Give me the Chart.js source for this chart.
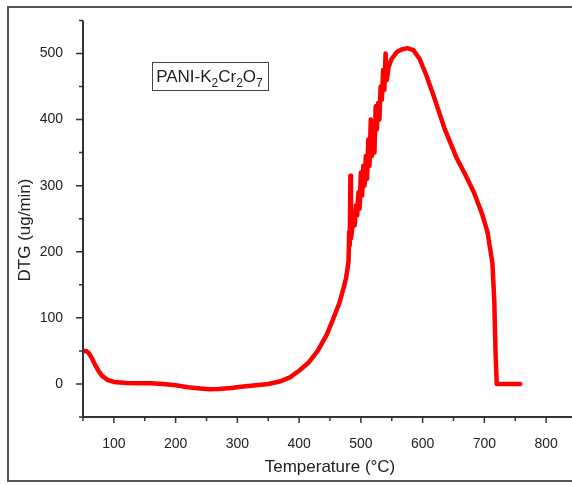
<!DOCTYPE html>
<html>
<head>
<meta charset="utf-8">
<script src="https://cdn.jsdelivr.net/npm/chart.js@4.4.1/dist/chart.umd.min.js"></script>
<style>
  html, body { margin: 0; padding: 0; background: #fff; overflow: hidden; }
  #wrap { position: relative; width: 572px; height: 485px; overflow: hidden; }
  #frame { position: absolute; left: 7px; top: 6px; width: 620px; height: 476px; border: 2px solid #555; border-right: none; box-sizing: border-box; }
  #c { position: absolute; left: 0; top: 0; }
</style>
</head>
<body>
<div id="wrap">
  <div id="frame"></div>
  <canvas id="c" width="588" height="485"></canvas>
</div>
<script>
// temperature (°C) and DTG (ug/min)
const temperature = [
  50, 55, 60, 65, 70, 75, 80, 90, 100, 120, 140, 160, 180, 200, 220, 240, 255, 270, 290, 310,
  330, 350, 370, 385, 400, 415, 430, 445, 455, 465, 472, 476, 480, 481, 482, 483, 484, 486, 488, 490,
  492, 494, 496, 498, 500, 502, 504, 506, 508, 510, 512, 514, 516, 518, 520, 522, 524, 526, 528, 530,
  532, 534, 536, 538, 540, 542, 545, 550, 558, 566, 575, 585, 595, 606, 620, 636, 655, 670, 683, 696,
  705, 713, 716, 718, 720, 740, 758
];
const dtg = [
  50, 50, 46, 38, 28, 20, 13, 6, 3, 1.5, 1, 1, 0, -2, -5, -7, -8, -7.5, -6, -4,
  -2, 0, 4, 10, 20, 32, 50, 75, 98, 122, 145, 160, 185, 230, 210, 315, 220, 235, 250, 240,
  270, 255, 290, 265, 320, 285, 330, 300, 345, 310, 370, 330, 400, 345, 375, 350, 420, 385, 425, 400,
  450, 430, 475, 445, 500, 460, 480, 492, 502, 506, 508, 505, 492, 467, 430, 385, 342, 315, 290, 258,
  230, 183, 127, 50, 0, 0, 0
];

const xTitle = "Temperature (°C)";
const yTitle = "DTG (ug/min)";
const sampleLabel = [["PANI-K", false], ["2", true], ["Cr", false], ["2", true], ["O", false], ["7", true]];

const points = temperature.map((t, i) => ({ x: t, y: dtg[i] }));

// axes lines, major/minor ticks, titles and the sample label box
const decor = {
  id: "decor",
  afterDraw(chart) {
    const ctx = chart.ctx;
    const xs = chart.scales.x, ys = chart.scales.y;
    const a = chart.chartArea;
    ctx.save();
    ctx.strokeStyle = "#333";
    ctx.lineWidth = 2;
    ctx.beginPath();
    ctx.moveTo(a.left, a.top);
    ctx.lineTo(a.left, a.bottom);
    ctx.lineTo(a.right + 10, a.bottom);
    ctx.stroke();

    ctx.lineWidth = 1.5;
    ctx.beginPath();
    xs.ticks.forEach(t => {
      const px = xs.getPixelForValue(t.value);
      const len = t.value % 100 === 0 ? 6 : 4;
      ctx.moveTo(px, a.bottom);
      ctx.lineTo(px, a.bottom + len);
    });
    ys.ticks.forEach(t => {
      const py = ys.getPixelForValue(t.value);
      const len = t.value % 100 === 0 ? 7 : 4;
      ctx.moveTo(a.left, py);
      ctx.lineTo(a.left - len, py);
    });
    ctx.stroke();

    ctx.fillStyle = "#222";
    ctx.font = "17px 'Liberation Sans', Arial, sans-serif";
    ctx.textAlign = "center";
    ctx.textBaseline = "middle";
    ctx.fillText(xTitle, 330, 467);
    ctx.save();
    ctx.translate(25, 230);
    ctx.rotate(-Math.PI / 2);
    ctx.fillText(yTitle, 0, 0);
    ctx.restore();

    // sample label, anchored in data units
    const bx = xs.getPixelForValue(162), by = ys.getPixelForValue(487);
    const big = "17px 'Liberation Sans', Arial, sans-serif";
    const small = "12px 'Liberation Sans', Arial, sans-serif";
    let w = 0;
    sampleLabel.forEach(([s, sub]) => { ctx.font = sub ? small : big; w += ctx.measureText(s).width; });
    ctx.strokeStyle = "#444";
    ctx.lineWidth = 1;
    ctx.strokeRect(Math.round(bx) + 0.5, Math.round(by) + 0.5, Math.round(w + 9), 28);
    ctx.textAlign = "left";
    ctx.textBaseline = "alphabetic";
    let cx = bx + 4;
    sampleLabel.forEach(([s, sub]) => {
      ctx.font = sub ? small : big;
      ctx.fillText(s, cx, by + (sub ? 25 : 20));
      cx += ctx.measureText(s).width;
    });
    ctx.restore();
  }
};

new Chart(document.getElementById("c"), {
  type: "line",
  data: {
    datasets: [{
      data: points,
      borderColor: "#ff0000",
      borderWidth: 4.5,
      pointRadius: 0,
      tension: 0,
      borderJoinStyle: "round",
      borderCapStyle: "round"
    }]
  },
  options: {
    responsive: false,
    animation: false,
    layout: { padding: { top: 20, right: 4, left: 0, bottom: 0 } },
    plugins: { legend: { display: false }, tooltip: { enabled: false } },
    scales: {
      x: {
        type: "linear",
        min: 50,
        max: 850,
        grid: { display: false },
        border: { display: false },
        afterFit: s => { s.height = 68; },
        ticks: {
          stepSize: 50,
          autoSkip: false,
          maxRotation: 0,
          padding: 11,
          color: "#222",
          font: { family: "'Liberation Sans', Arial, sans-serif", size: 14 },
          callback: v => (v % 100 === 0 ? v : "")
        }
      },
      y: {
        min: -50,
        max: 550,
        grid: { display: false },
        border: { display: false },
        afterFit: s => { s.width = 83; },
        ticks: {
          stepSize: 50,
          autoSkip: false,
          padding: 12,
          color: "#222",
          font: { family: "'Liberation Sans', Arial, sans-serif", size: 14 },
          callback: v => (v % 100 === 0 && v < 550 ? v : "")
        }
      }
    }
  },
  plugins: [decor]
});
</script>
</body>
</html>
